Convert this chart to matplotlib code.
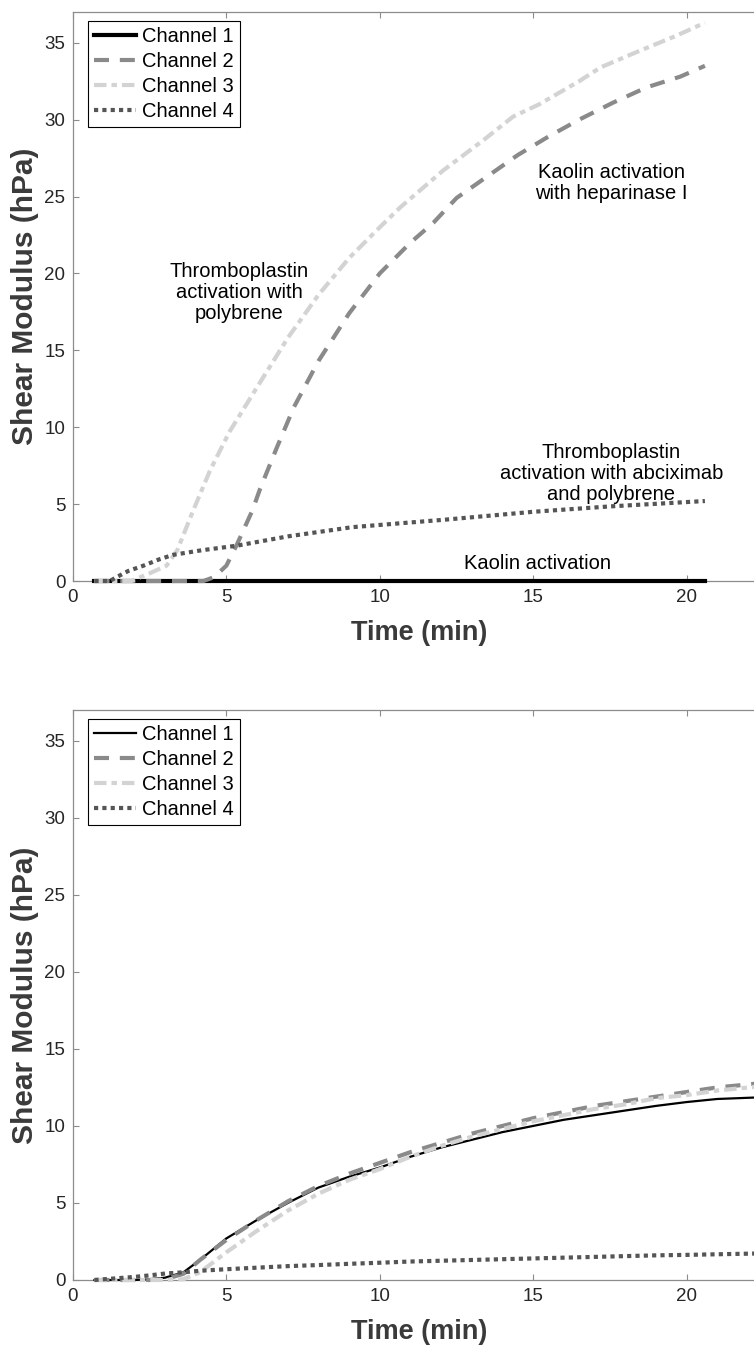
import matplotlib
matplotlib.use("Agg")
import matplotlib.pyplot as plt
import numpy as np

plt.rcParams['font.family'] = ['Liberation Sans', 'DejaVu Sans']

# ---------------- data: top panel ----------------
t1_top = [0.7, 20.6]
ch1_top = [0.0, 0.0]

t2_top = [0.7, 4.25, 4.6, 5.0, 5.35, 5.85, 6.1, 6.65, 7.2, 8.0, 9.0, 10.0, 11.0, 11.75,
          12.5, 13.5, 14.5, 15.5, 16.5, 17.6, 18.7, 19.8, 20.6]
ch2_top = [0.0, 0.0, 0.25, 1.0, 2.4, 4.6, 6.0, 8.7, 11.3, 14.3, 17.4, 20.0, 22.0, 23.3,
           24.9, 26.3, 27.7, 28.9, 30.0, 31.1, 32.1, 32.8, 33.5]

t3_top = [0.7, 1.9, 2.5, 3.05, 3.4, 3.9, 4.47, 5.1, 6.0, 7.0, 8.0, 9.0, 10.0, 10.67,
          12.07, 13.4, 14.35, 15.2, 16.5, 17.2, 18.5, 19.6, 20.6]
ch3_top = [0.0, 0.0, 0.5, 1.0, 2.0, 4.5, 7.2, 9.7, 12.6, 15.8, 18.6, 21.0, 23.0, 24.3,
           26.7, 28.7, 30.2, 31.0, 32.5, 33.4, 34.5, 35.4, 36.3]

t4_top = [0.7, 1.2, 1.43, 1.8, 2.3, 2.8, 3.26, 4.2, 5.35, 7.0, 9.1, 12.2, 15.0, 17.5, 20.6]
ch4_top = [0.0, 0.0, 0.26, 0.65, 1.0, 1.4, 1.7, 2.0, 2.3, 2.9, 3.5, 4.0, 4.5, 4.85, 5.2]

# ---------------- data: bottom panel ----------------
t_bot = [0.7, 2.0, 2.5, 3.0, 3.6, 4.14, 5.0, 6.0, 7.0, 8.0, 9.0, 10.0, 11.0, 12.0, 13.0,
         14.0, 15.0, 16.0, 17.0, 18.0, 19.0, 20.0, 21.0, 22.3]
ch1_bot = [0.0, 0.0, 0.05, 0.15, 0.5, 1.3, 2.7, 3.9, 5.0, 6.0, 6.7, 7.3, 8.0, 8.6, 9.1,
           9.6, 10.0, 10.4, 10.7, 11.0, 11.3, 11.55, 11.75, 11.85]
ch2_bot = [0.0, 0.0, 0.0, 0.05, 0.4, 1.3, 2.6, 3.9, 5.1, 6.1, 6.9, 7.6, 8.3, 8.9, 9.5,
           10.0, 10.5, 10.9, 11.3, 11.6, 11.9, 12.2, 12.5, 12.75]
ch3_bot = [0.0, 0.0, 0.0, 0.0, 0.05, 0.5, 1.8, 3.2, 4.5, 5.6, 6.5, 7.2, 8.0, 8.7, 9.3,
           9.8, 10.3, 10.7, 11.1, 11.4, 11.8, 12.0, 12.3, 12.55]
ch4_bot = [0.0, 0.2, 0.3, 0.42, 0.5, 0.6, 0.7, 0.8, 0.9, 0.97, 1.05, 1.12, 1.2, 1.25, 1.3,
           1.35, 1.4, 1.45, 1.5, 1.55, 1.6, 1.63, 1.67, 1.72]

labels = ["Channel 1", "Channel 2", "Channel 3", "Channel 4"]
x_ticks = [0, 5, 10, 15, 20]
y_ticks = [0, 5, 10, 15, 20, 25, 30, 35]

# ---------------- styles ----------------
c1, c2, c3, c4 = "#000000", "#8a8a8a", "#d3d3d3", "#555555"
ls2 = (0, (3.6, 2.6))
ls3 = (0, (3.0, 1.2, 1.3, 1.2))
ls4 = (0, (1.0, 1.0))
spine_c = "#8c8c8c"
tick_c = "#262626"
lab_c = "#3a3a3a"

W, H = 754, 1347
fig = plt.figure(figsize=(W / 100, H / 100), dpi=100)
ax_top = fig.add_axes([73 / W, (H - 581) / H, 681 / W, 569 / H])
ax_bot = fig.add_axes([73 / W, (H - 1280) / H, 681 / W, 570 / H])


def style(ax):
    ax.set_xlim(0, 22.2)
    ax.set_ylim(0, 37)
    ax.set_xticks(x_ticks)
    ax.set_yticks(y_ticks)
    ax.spines['right'].set_visible(False)
    for s in ['left', 'bottom', 'top']:
        ax.spines[s].set_color(spine_c)
        ax.spines[s].set_linewidth(0.9)
    ax.tick_params(direction='in', length=4.3, width=0.8, color=spine_c,
                   labelsize=13.5, labelcolor=tick_c, top=True)
    ax.tick_params(axis='x', pad=6)
    ax.tick_params(axis='y', pad=5.5)
    ax.set_xlabel("Time (min)", fontsize=19.5, fontweight='bold', color=lab_c)
    ax.set_ylabel("Shear Modulus (hPa)", fontsize=21.5, fontweight='bold', color=lab_c)
    ax.xaxis.set_label_coords(0.508, -0.068)
    ax.yaxis.set_label_coords(-0.05, 0.5)


def legend(ax):
    lg = ax.legend(loc='upper left', bbox_to_anchor=(0.022, 0.984), borderaxespad=0,
                   fontsize=14.5, frameon=True, fancybox=False, framealpha=1,
                   edgecolor='black', handlelength=2.1, handletextpad=0.3,
                   labelspacing=0.3, borderpad=0.3)
    lg.get_frame().set_linewidth(0.8)
    lg.set_zorder(5)


# top panel
ax_top.plot(t1_top, ch1_top, color=c1, lw=3.0, label=labels[0], clip_on=False, zorder=3)
ax_top.plot(t2_top, ch2_top, color=c2, lw=3.0, ls=ls2, label=labels[1], clip_on=False, zorder=3)
ax_top.plot(t3_top, ch3_top, color=c3, lw=3.0, ls=ls3, label=labels[2], clip_on=False, zorder=3)
ax_top.plot(t4_top, ch4_top, color=c4, lw=3.0, ls=ls4, label=labels[3], clip_on=False, zorder=3)
style(ax_top)
legend(ax_top)

ann_kw = dict(ha='center', va='center', fontsize=14.5, color='black', linespacing=1.15)
ax_top.text(5.42, 18.75, "Thromboplastin\nactivation with\npolybrene", **ann_kw)
ax_top.text(17.55, 25.9, "Kaolin activation\nwith heparinase I", **ann_kw)
ax_top.text(17.55, 7.0, "Thromboplastin\nactivation with abciximab\nand polybrene", **ann_kw)
ax_top.text(15.15, 1.17, "Kaolin activation", **ann_kw)

# bottom panel
ax_bot.plot(t_bot, ch1_bot, color=c1, lw=1.6, label=labels[0], clip_on=False, zorder=3)
ax_bot.plot(t_bot, ch2_bot, color=c2, lw=3.0, ls=ls2, label=labels[1], clip_on=False, zorder=3)
ax_bot.plot(t_bot, ch3_bot, color=c3, lw=3.0, ls=ls3, label=labels[2], clip_on=False, zorder=3)
ax_bot.plot(t_bot, ch4_bot, color=c4, lw=3.0, ls=ls4, label=labels[3], clip_on=False, zorder=3)
style(ax_bot)
legend(ax_bot)

fig.savefig("out.png", dpi=100)
